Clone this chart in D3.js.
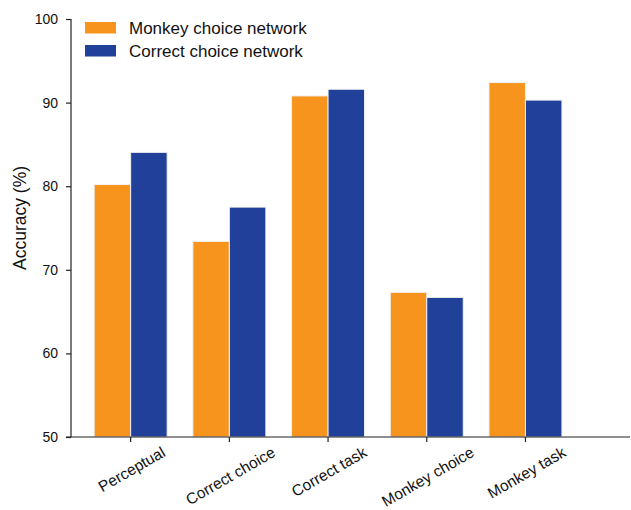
<!DOCTYPE html>
<html>
<head>
<meta charset="utf-8">
<script src="https://cdn.jsdelivr.net/npm/d3@7"></script>
<style>
  html, body { margin: 0; padding: 0; background: #fff; }
  svg text { font-family: Arial, "Liberation Sans", sans-serif; fill: #111; }
</style>
</head>
<body>
<svg id="chart" width="631" height="510"></svg>
<script>
// Accuracy of the two networks on each evaluation
const categories = ["Perceptual", "Correct choice", "Correct task", "Monkey choice", "Monkey task"];
const seriesNames = ["Monkey choice network", "Correct choice network"];
const monkeyNet = [80.2, 73.4, 90.8, 67.3, 92.4];
const correctNet = [84.05, 77.5, 91.6, 66.7, 90.3];
const yTicks = [50, 60, 70, 80, 90, 100];
const colors = ["#F7941E", "#21409A"];

const svg = d3.select("#chart");

const y = d3.scaleLinear().domain([50, 100]).range([437, 19]);
const x = d3.scaleBand().domain(categories).range([81.3, 574.8]);
const inner = d3.scaleBand().domain(seriesNames).range([-36.5, 36.5]);

// bars
const series = [monkeyNet, correctNet];
series.forEach((vals, si) => {
  svg.append("g").selectAll("rect")
    .data(categories.map((c, i) => ({ c, v: vals[i] })))
    .join("rect")
    .attr("x", d => x(d.c) + x.bandwidth() / 2 + inner(seriesNames[si]))
    .attr("y", d => y(d.v))
    .attr("width", inner.bandwidth())
    .attr("height", d => y(50) - y(d.v))
    .attr("fill", colors[si])
    .attr("stroke", "#f2f2f2")
    .attr("stroke-width", 1);
});

// y axis
const yAxis = svg.append("g")
  .attr("transform", "translate(71,0)")
  .call(d3.axisLeft(y).tickValues(yTicks).tickSize(5).tickPadding(8));
yAxis.select(".domain").attr("d", "M0,19V437").attr("stroke", "#222").attr("stroke-width", 1.2);
yAxis.selectAll(".tick line").attr("stroke", "#222").attr("stroke-width", 1.2);
yAxis.selectAll(".tick text").attr("font-size", 14).style("font-family", "Arial, 'Liberation Sans', sans-serif");

// x axis
const xAxis = svg.append("g")
  .attr("transform", "translate(0,437)")
  .call(d3.axisBottom(x).tickSize(5).tickFormat(""));
xAxis.select(".domain").attr("d", "M66,0H630").attr("stroke", "#222").attr("stroke-width", 1.2);
xAxis.selectAll(".tick line").attr("stroke", "#222").attr("stroke-width", 1.2);

// rotated category labels, centred under each tick
const angle = 30;
const rad = angle * Math.PI / 180;
const labelSize = 15.5;
svg.append("g").selectAll("text")
  .data(categories)
  .join("text")
  .attr("font-size", labelSize)
  .attr("text-anchor", "middle")
  .attr("dominant-baseline", "central")
  .text(d => d)
  .each(function (d) {
    const len = this.getComputedTextLength();
    const h = labelSize * 0.85;
    const bboxH = len * Math.sin(rad) + h * Math.cos(rad);
    const cx = x(d) + x.bandwidth() / 2 + 1;
    const cy = 445 + bboxH / 2;
    d3.select(this).attr("transform", `translate(${cx},${cy}) rotate(${-angle})`);
  });

// y label
svg.append("text")
  .attr("transform", "translate(26,218) rotate(-90)")
  .attr("text-anchor", "middle")
  .attr("font-size", 17.5)
  .text("Accuracy (%)");

// legend
const legend = svg.append("g").selectAll("g")
  .data(seriesNames)
  .join("g")
  .attr("transform", (d, i) => `translate(85,${22 + i * 23})`);
legend.append("rect")
  .attr("width", 31).attr("height", 11.5)
  .attr("fill", (d, i) => colors[i]);
legend.append("text")
  .attr("x", 44).attr("y", 6)
  .attr("dominant-baseline", "central")
  .attr("font-size", 17)
  .text(d => d);
</script>
</body>
</html>
